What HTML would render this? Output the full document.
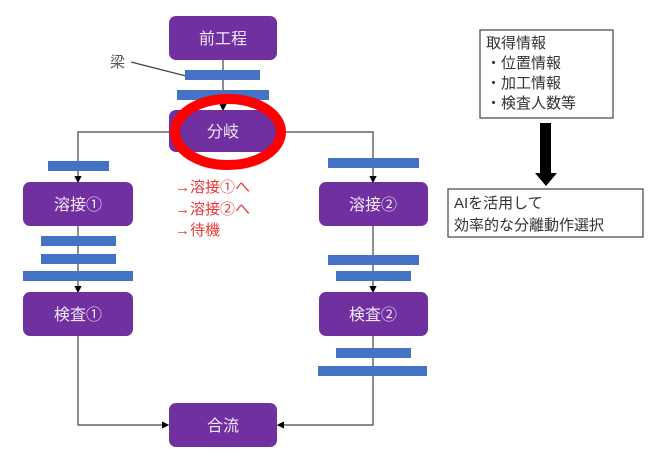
<!DOCTYPE html>
<html><head><meta charset="utf-8"><style>
html,body{margin:0;padding:0;background:#fff;width:660px;height:462px;overflow:hidden}
text{font-family:"Liberation Sans","Noto Sans CJK JP",sans-serif}
</style></head><body>
<svg width="660" height="462" viewBox="0 0 660 462" xmlns="http://www.w3.org/2000/svg">
<defs><marker id="a" markerWidth="6" markerHeight="6" refX="5" refY="3" orient="auto"><path d="M0,0 L6,3 L0,6z" fill="#000"/></marker></defs>
<g stroke="#444" stroke-width="1.2" fill="none">
<line x1="223" y1="60" x2="223" y2="110" marker-end="url(#a)"/>
<polyline points="169,132 78,132 78,182" marker-end="url(#a)"/>
<polyline points="277,132 373,132 373,182" marker-end="url(#a)"/>
<line x1="78" y1="226" x2="78" y2="292" marker-end="url(#a)"/>
<line x1="373" y1="226" x2="373" y2="292" marker-end="url(#a)"/>
<polyline points="78,336 78,425 168,425" marker-end="url(#a)"/>
<polyline points="373,336 373,425 278,425" marker-end="url(#a)"/>
<line x1="131" y1="62" x2="186" y2="76"/>
</g>
<g fill="#7030a0">
<rect x="169" y="16" width="108" height="44" rx="7"/>
<rect x="169" y="110" width="108" height="42" rx="7"/>
<rect x="23" y="182" width="110" height="44" rx="7"/>
<rect x="319" y="182" width="109" height="44" rx="7"/>
<rect x="23" y="292" width="110" height="44" rx="7"/>
<rect x="319" y="292" width="109" height="44" rx="7"/>
<rect x="169" y="403" width="108" height="44" rx="7"/>
</g>
<g fill="#4472c4">
<rect x="185" y="70" width="75" height="10"/>
<rect x="177" y="90" width="92" height="10"/>
<rect x="48" y="161" width="61" height="10"/>
<rect x="328" y="158" width="91" height="10"/>
<rect x="41" y="236" width="75" height="10"/>
<rect x="41" y="254" width="75" height="10"/>
<rect x="23" y="271" width="110" height="10"/>
<rect x="328" y="255" width="91" height="10"/>
<rect x="336" y="271" width="75" height="10"/>
<rect x="336" y="348" width="75" height="10"/>
<rect x="318" y="366" width="109" height="10"/>
</g>
<ellipse cx="228" cy="132" rx="53" ry="33" fill="none" stroke="#ff0000" stroke-width="10"/>
<g fill="#f0e8f8" font-size="16" text-anchor="middle">
<text x="223" y="44">前工程</text>
<text x="223" y="137">分岐</text>
<text x="78" y="210">溶接①</text>
<text x="373" y="210">溶接②</text>
<text x="78" y="320">検査①</text>
<text x="373" y="320">検査②</text>
<text x="223" y="431">合流</text>
</g>
<text x="110" y="67" font-size="15" fill="#555">梁</text>
<g fill="#e83a3a" font-size="15" style="font-family:'Noto Sans CJK JP',sans-serif">
<text x="175" y="192">→溶接①へ</text>
<text x="175" y="214">→溶接②へ</text>
<text x="175" y="235">→待機</text>
</g>
<rect x="480" y="30" width="133" height="88" fill="none" stroke="#444" stroke-width="1.2"/>
<g font-size="15" fill="#333">
<text x="486" y="48">取得情報</text>
<text x="486" y="68">・位置情報</text>
<text x="486" y="88">・加工情報</text>
<text x="486" y="108">・検査人数等</text>
</g>
<rect x="540" y="123" width="11" height="52" fill="#000"/>
<polygon points="535,173 557,173 546,186" fill="#000"/>
<rect x="448" y="189" width="195" height="48" fill="none" stroke="#444" stroke-width="1.2"/>
<g font-size="15" fill="#333">
<text x="454" y="208">AIを活用して</text>
<text x="454" y="230">効率的な分離動作選択</text>
</g>
</svg>
</body></html>
